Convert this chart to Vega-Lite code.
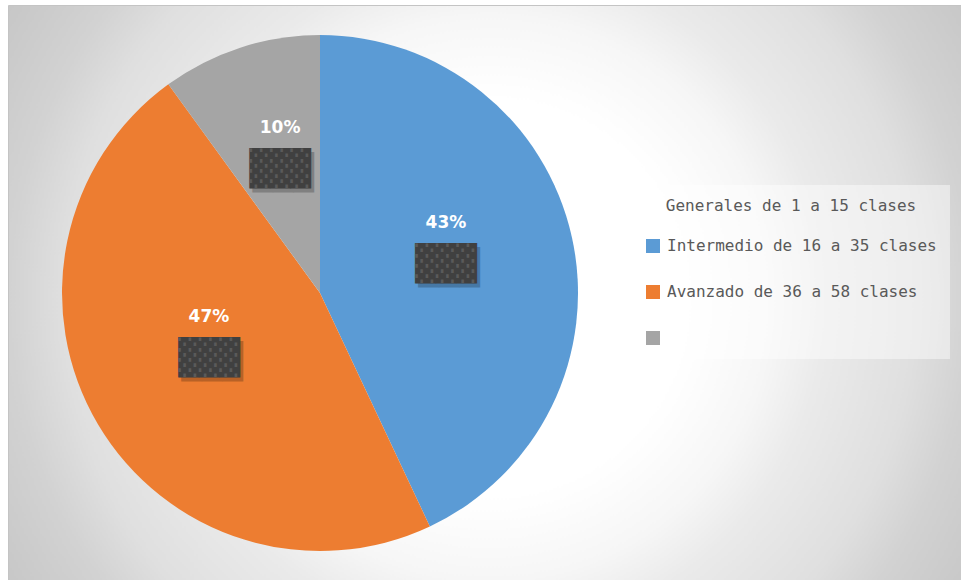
{
  "$schema": "https://vega.github.io/schema/vega-lite/v6.json",
  "width": 961,
  "height": 580,
  "autosize": {"type": "fit", "contains": "padding"},
  "padding": {"left": 8, "top": 5, "right": 0, "bottom": 0},
  "background": "#ffffff",
  "config": {
    "view": {
      "fill": {
        "gradient": "radial",
        "x1": 0.505, "y1": 0.505, "r1": 0,
        "x2": 0.505, "y2": 0.505, "r2": 0.63,
        "stops": [
          {"offset": 0, "color": "#ffffff"},
          {"offset": 0.33, "color": "#ffffff"},
          {"offset": 0.47, "color": "#f6f6f6"},
          {"offset": 0.56, "color": "#eaeaea"},
          {"offset": 0.71, "color": "#dfdfdf"},
          {"offset": 0.8, "color": "#d2d2d2"},
          {"offset": 0.92, "color": "#c8c8c8"},
          {"offset": 1, "color": "#c2c2c2"}
        ]
      },
      "stroke": "#c4c4c4",
      "strokeWidth": 1
    }
  },
  "data": {
    "values": [
      {"orden": 1, "categoria": "Intermedio de 16 a 35 clases", "valor": 0.43},
      {"orden": 2, "categoria": "Avanzado de 36 a 58 clases", "valor": 0.47},
      {"orden": 3, "categoria": "Sin etiqueta", "valor": 0.10}
    ]
  },
  "encoding": {
    "theta": {"field": "valor", "type": "quantitative", "stack": true},
    "order": {"field": "orden", "type": "quantitative"},
    "x": {"value": 312},
    "y": {"value": 288}
  },
  "layer": [
    {
      "mark": {"type": "arc", "outerRadius": 258},
      "encoding": {
        "color": {
          "field": "categoria",
          "type": "nominal",
          "scale": {
            "domain": ["Intermedio de 16 a 35 clases", "Avanzado de 36 a 58 clases", "Sin etiqueta"],
            "range": ["#5B9BD5", "#ED7D31", "#A5A5A5"]
          },
          "legend": {
            "orient": "none",
            "legendX": 624,
            "legendY": 180,
            "title": "Generales de 1 a 15 clases",
            "titleFont": "DejaVu Sans Mono",
            "titleFontSize": 16,
            "titleFontWeight": "normal",
            "titleColor": "#595959",
            "titleAnchor": "middle",
            "titleLimit": 400,
            "titlePadding": 24,
            "labelFont": "DejaVu Sans Mono",
            "labelFontSize": 16,
            "labelColor": "#595959",
            "labelLimit": 400,
            "labelOffset": 6,
            "labelExpr": "datum.label == 'Sin etiqueta' ? '' : datum.label",
            "symbolType": "square",
            "symbolSize": 196,
            "symbolStrokeWidth": 0,
            "symbolOpacity": 1,
            "rowPadding": 30,
            "padding": 13,
            "fillColor": "rgba(255,255,255,0.45)"
          }
        }
      }
    },
    {
      "mark": {"type": "text", "radius": 129, "font": "DejaVu Sans Mono", "fontSize": 34, "dx": 3, "dy": 4, "color": "#000000", "opacity": 0.22, "align": "center", "baseline": "middle"},
      "encoding": {"text": {"value": "███"}}
    },
    {
      "mark": {"type": "text", "radius": 129, "font": "DejaVu Sans Mono", "fontSize": 34, "color": "#404040", "align": "center", "baseline": "middle"},
      "encoding": {"text": {"value": "███"}}
    },
    {
      "mark": {"type": "text", "radius": 129, "font": "DejaVu Sans Mono", "fontSize": 34, "color": "#5a5a5a", "align": "center", "baseline": "middle"},
      "encoding": {"text": {"value": "░░░"}}
    },
    {
      "mark": {"type": "text", "radius": 129, "dy": -42, "font": "DejaVu Sans", "fontSize": 17, "fontWeight": "bold", "color": "#ffffff", "align": "center", "baseline": "middle"},
      "encoding": {"text": {"field": "valor", "type": "quantitative", "format": ".0%"}}
    }
  ]
}
